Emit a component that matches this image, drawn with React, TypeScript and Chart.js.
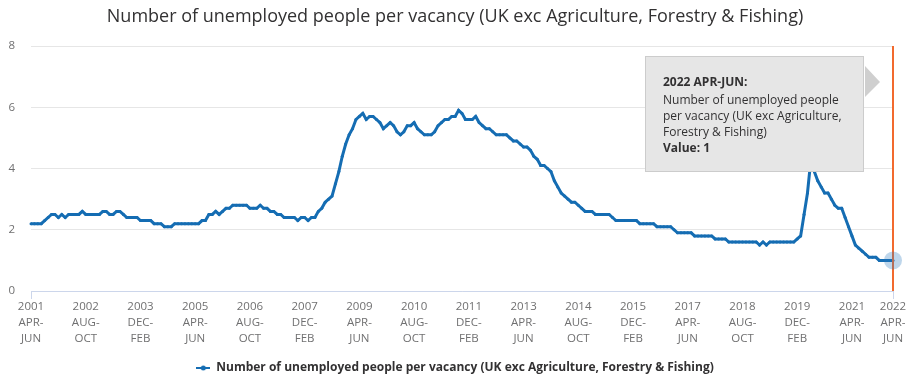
import React, { useEffect, useRef } from "react";
import { Chart, registerables } from "chart.js";

Chart.register(...registerables);

const SERIES_NAME =
  "Number of unemployed people per vacancy (UK exc Agriculture, Forestry & Fishing)";
const CHART_TITLE =
  "Number of unemployed people per vacancy (UK exc Agriculture, Forestry & Fishing)";

const MONTHS = ["JAN", "FEB", "MAR", "APR", "MAY", "JUN", "JUL", "AUG", "SEP", "OCT", "NOV", "DEC"];
const START_YEAR = 2001;
const START_MONTH = 3; // APR
const TICK_EVERY = 16;
const Y_TICKS = [0, 2, 4, 6, 8];

// Rolling three-month values, 2001 APR-JUN .. 2022 APR-JUN
const VALUES = [
  2.2, 2.2, 2.2, 2.2, 2.3, 2.4, 2.5, 2.5, 2.4, 2.5,
  2.4, 2.5, 2.5, 2.5, 2.5, 2.6, 2.5, 2.5, 2.5, 2.5,
  2.5, 2.6, 2.6, 2.5, 2.5, 2.6, 2.6, 2.5, 2.4, 2.4,
  2.4, 2.4, 2.3, 2.3, 2.3, 2.3, 2.2, 2.2, 2.2, 2.1,
  2.1, 2.1, 2.2, 2.2, 2.2, 2.2, 2.2, 2.2, 2.2, 2.2,
  2.3, 2.3, 2.5, 2.5, 2.6, 2.5, 2.6, 2.7, 2.7, 2.8,
  2.8, 2.8, 2.8, 2.8, 2.7, 2.7, 2.7, 2.8, 2.7, 2.7,
  2.6, 2.6, 2.5, 2.5, 2.4, 2.4, 2.4, 2.4, 2.3, 2.4,
  2.4, 2.3, 2.4, 2.4, 2.6, 2.7, 2.9, 3.0, 3.1, 3.5,
  3.9, 4.4, 4.8, 5.1, 5.3, 5.6, 5.7, 5.8, 5.6, 5.7,
  5.7, 5.6, 5.5, 5.3, 5.4, 5.5, 5.4, 5.2, 5.1, 5.2,
  5.4, 5.4, 5.5, 5.3, 5.2, 5.1, 5.1, 5.1, 5.2, 5.4,
  5.5, 5.6, 5.6, 5.7, 5.7, 5.9, 5.8, 5.6, 5.6, 5.6,
  5.7, 5.5, 5.4, 5.3, 5.3, 5.2, 5.1, 5.1, 5.1, 5.1,
  5.0, 4.9, 4.9, 4.8, 4.7, 4.7, 4.6, 4.4, 4.3, 4.1,
  4.1, 4.0, 3.9, 3.6, 3.4, 3.2, 3.1, 3.0, 2.9, 2.9,
  2.8, 2.7, 2.6, 2.6, 2.6, 2.5, 2.5, 2.5, 2.5, 2.5,
  2.4, 2.3, 2.3, 2.3, 2.3, 2.3, 2.3, 2.3, 2.2, 2.2,
  2.2, 2.2, 2.2, 2.1, 2.1, 2.1, 2.1, 2.1, 2.0, 1.9,
  1.9, 1.9, 1.9, 1.9, 1.8, 1.8, 1.8, 1.8, 1.8, 1.8,
  1.7, 1.7, 1.7, 1.7, 1.6, 1.6, 1.6, 1.6, 1.6, 1.6,
  1.6, 1.6, 1.6, 1.5, 1.6, 1.5, 1.6, 1.6, 1.6, 1.6,
  1.6, 1.6, 1.6, 1.6, 1.7, 1.8, 2.5, 3.2, 4.3, 3.9,
  3.6, 3.4, 3.2, 3.2, 3.0, 2.8, 2.7, 2.7, 2.4, 2.1,
  1.8, 1.5, 1.4, 1.3, 1.2, 1.1, 1.1, 1.1, 1.0, 1.0,
  1.0, 1.0, 1.0,
];

const CATEGORIES = VALUES.map((_, i) => {
  const m = (START_MONTH + i) % 12;
  const y = START_YEAR + Math.floor((START_MONTH + i) / 12);
  return `${y} ${MONTHS[m]}-${MONTHS[(m + 2) % 12]}`;
});

const LINE_COLOR = "#156db3";
const TEXT_DARK = "#323132";
const AXIS_TEXT = "#707071";
const FONT = "'Open Sans', sans-serif";

const isShownTick = (i: number) => i % TICK_EVERY === 0 || i === CATEGORIES.length - 1;

function makeLegendIcon(color: string) {
  const c = document.createElement("canvas");
  c.width = 14;
  c.height = 6;
  const g = c.getContext("2d")!;
  g.fillStyle = color;
  g.fillRect(0, 2, 14, 2);
  g.beginPath();
  g.arc(7, 3, 2.5, 0, Math.PI * 2);
  g.fill();
  return c;
}

function wrapText(ctx: CanvasRenderingContext2D, text: string, maxW: number) {
  const words = text.split(" ");
  const lines: string[] = [];
  let cur = "";
  for (const w of words) {
    const t = cur ? cur + " " + w : w;
    if (ctx.measureText(t).width > maxW && cur) {
      lines.push(cur);
      cur = w;
    } else cur = t;
  }
  if (cur) lines.push(cur);
  return lines;
}

// centre title and legend on the full canvas width rather than the padded area
const recenterPlugin = {
  id: "recenter",
  beforeDraw(chart: any) {
    const shift = (chart.width - (chart.titleBlock ? chart.titleBlock.right : chart.width)) / 2;
    [chart.titleBlock, chart.legend].forEach((b: any) => {
      if (b && !b._recentered) {
        b.left += shift;
        b.right += shift;
        b._recentered = true;
      }
    });
  },
};

const overlayPlugin = {
  id: "overlay",
  afterDatasetsDraw(chart: any) {
    const { ctx, chartArea } = chart;
    const meta = chart.getDatasetMeta(0);
    const lastIdx = meta.data.length - 1;
    const pt = meta.data[lastIdx];
    const px = pt.x;
    const py = pt.y;
    ctx.save();
    // crosshair
    ctx.strokeStyle = "#f26a2e";
    ctx.lineWidth = 2;
    ctx.beginPath();
    ctx.moveTo(px, chartArea.top);
    ctx.lineTo(px, chartArea.bottom);
    ctx.stroke();
    // halo
    ctx.fillStyle = "rgba(40,120,190,0.3)";
    ctx.beginPath();
    ctx.arc(px, py, 9, 0, Math.PI * 2);
    ctx.fill();

    // tooltip box
    const boxR = px - 29;
    const boxL = boxR - 219;
    const boxT = chartArea.top + 10;
    const boxH = 116;
    ctx.fillStyle = "#e6e6e6";
    ctx.fillRect(boxL, boxT, boxR - boxL, boxH);
    ctx.strokeStyle = "#cccccc";
    ctx.lineWidth = 1;
    ctx.strokeRect(boxL + 0.5, boxT + 0.5, boxR - boxL - 1, boxH - 1);
    ctx.fillStyle = "#cfcfcf";
    ctx.beginPath();
    ctx.moveTo(boxR + 1, boxT + 10);
    ctx.lineTo(boxR + 16, boxT + 26);
    ctx.lineTo(boxR + 1, boxT + 41);
    ctx.closePath();
    ctx.fill();

    const tx = boxL + 18;
    ctx.textAlign = "left";
    ctx.textBaseline = "middle";
    ctx.fillStyle = TEXT_DARK;
    ctx.font = `bold 12px ${FONT}`;
    ctx.fillText(CATEGORIES[lastIdx] + ":", tx, boxT + 26.5);
    ctx.font = `12px ${FONT}`;
    const lines = wrapText(ctx, SERIES_NAME, 185);
    lines.forEach((l, k) => ctx.fillText(l, tx, boxT + 45 + k * 15.7));
    ctx.font = `bold 12px ${FONT}`;
    ctx.fillText("Value: " + VALUES[lastIdx], tx, boxT + 45 + lines.length * 15.7);
    ctx.restore();
  },
};

export default function App() {
  const ref = useRef<HTMLCanvasElement | null>(null);

  useEffect(() => {
    document.body.style.margin = "0";
    const canvas = ref.current!;
    const icon = makeLegendIcon(LINE_COLOR);
    const chart = new Chart(canvas, {
      type: "line",
      data: {
        labels: CATEGORIES,
        datasets: [
          {
            label: SERIES_NAME,
            data: VALUES,
            borderColor: LINE_COLOR,
            backgroundColor: LINE_COLOR,
            borderWidth: 3,
            pointRadius: 1.5,
            pointBorderWidth: 0,
            pointBackgroundColor: LINE_COLOR,
            tension: 0,
          },
        ],
      },
      options: {
        responsive: false,
        maintainAspectRatio: false,
        animation: false,
        events: [],
        layout: { padding: { left: 0, right: 17, top: 0, bottom: 1 } },
        scales: {
          x: {
            type: "category",
            border: { display: true, color: "#ccd6eb", width: 1 },
            grid: {
              drawOnChartArea: false,
              drawTicks: true,
              tickLength: 8,
              color: (c: any) => (isShownTick(c.index) ? "#ccd6eb" : "rgba(0,0,0,0)"),
              tickColor: (c: any) => (isShownTick(c.index) ? "#ccd6eb" : "rgba(0,0,0,0)"),
            },
            ticks: {
              autoSkip: false,
              maxRotation: 0,
              minRotation: 0,
              padding: 0,
              color: AXIS_TEXT,
              font: { family: FONT, size: 11.5, lineHeight: 16 / 11.5 },
              callback: function (_v: any, i: number) {
                if (!isShownTick(i)) return null;
                const [yr, range] = CATEGORIES[i].split(" ");
                const [a, b] = range.split("-");
                return [yr, a + "-", b];
              },
            },
            afterFit: (scale: any) => {
              scale.height = 61;
            },
          },
          y: {
            min: 0,
            max: 8,
            afterBuildTicks: (scale: any) => {
              scale.ticks = Y_TICKS.map((v) => ({ value: v }));
            },
            afterFit: (scale: any) => {
              scale.width = 31;
            },
            border: { display: false },
            grid: { color: "#e6e6e6", drawTicks: false, lineWidth: 1 },
            ticks: {
              padding: 16,
              color: AXIS_TEXT,
              font: { family: FONT, size: 11.5 },
            },
          },
        },
        plugins: {
          title: {
            display: true,
            text: CHART_TITLE,
            color: TEXT_DARK,
            font: { family: FONT, size: 18, weight: "normal", lineHeight: 1.2 },
            padding: { top: 6.2, bottom: 18.2 },
          },
          legend: {
            display: true,
            position: "bottom",
            labels: {
              usePointStyle: true,
              pointStyleWidth: 14,
              boxHeight: 6,
              padding: 10,
              color: TEXT_DARK,
              font: { family: FONT, size: 12, weight: "bold" },
              generateLabels: () => [
                {
                  text: SERIES_NAME,
                  pointStyle: icon as any,
                  fillStyle: LINE_COLOR,
                  strokeStyle: LINE_COLOR,
                  lineWidth: 0,
                  hidden: false,
                  datasetIndex: 0,
                  fontColor: TEXT_DARK,
                },
              ],
            },
          },
          tooltip: { enabled: false },
        },
      },
      plugins: [recenterPlugin, overlayPlugin],
    });
    return () => chart.destroy();
  }, []);

  return (
    <div style={{ width: 910, height: 385 }}>
      <canvas ref={ref} width={910} height={385} style={{ display: "block", width: 910, height: 385 }} />
    </div>
  );
}
